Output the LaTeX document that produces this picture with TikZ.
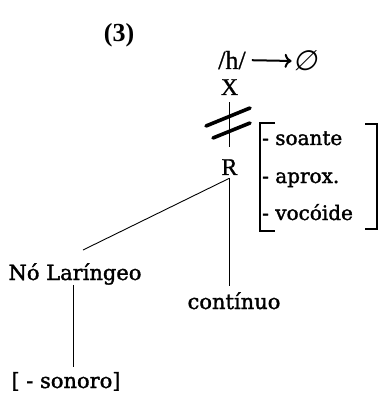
\documentclass[tikz,border=0pt]{standalone}
\usepackage{fontspec}
\setmainfont{DejaVu Serif}
\newfontfamily\heavy{DejaVu Serif}[BoldFont={DejaVu Serif},BoldFeatures={FakeBold=1.6}]
\newfontfamily\tms{Liberation Serif}[BoldFont={Liberation Serif},BoldFeatures={FakeBold=1.0}]
\newfontfamily\tmsb{Liberation Serif Bold}
\newfontfamily\dvs{DejaVu Sans}[FakeSlant=0.2]
\usetikzlibrary{arrows.meta}
\begin{document}
\begin{tikzpicture}[x=1pt,y=-1pt,
  lbl/.style={inner sep=0pt,anchor=base,font=\heavy\bfseries\fontsize{21}{25}\selectfont},
  feat/.style={inner sep=0pt,anchor=base west,font=\heavy\bfseries\fontsize{20}{24}\selectfont},
  tm/.style={inner sep=0pt,anchor=base,font=\tms\bfseries\fontsize{24}{28}\selectfont},
  ln/.style={line width=0.9pt},
  cut/.style={line width=3.6pt,line cap=round},
  brk/.style={line width=1.4pt}]
\useasboundingbox (0,0) rectangle (378,395);
% title
\node[inner sep=0pt,anchor=base,font=\tmsb\fontsize{26}{30}\selectfont] (three) at (119,42) {(3)};
% rule
\node[inner sep=0pt,anchor=base west,font=\tms\bfseries\fontsize{26}{30}\selectfont] (h) at (218,69) {/h/};
\node[inner sep=0pt,font=\dvs\fontsize{28}{32}\selectfont] (null) at (305,61) {∅};
\draw[line width=2pt,-{Computer Modern Rightarrow[length=7pt,width=14pt]},shorten <=6pt,shorten >=1pt] (h.east) -- (null.west);
% tiers
\node[tm] (X) at (229.5,95) {X};
\node[tm] (R) at (229.5,175) {R};
\draw[ln,shorten <=7pt,shorten >=12pt] (X.south) -- (R.north);
\draw[cut] (206,126) -- (250,108);
\draw[cut] (213,138) -- (250,123);
% feature bracket
\draw[brk] (275,123) -| (260,231) -- (275,231);
\draw[brk] (365,124) -| (377,229) -- (365,229);
\node[feat] (f1) at (262,145) {- soante};
\node[feat] (f2) at (262,183) {- aprox.};
\node[feat] (f3) at (262,220) {- vocóide};
% lower nodes
\node[lbl] (NL) at (75,280) {Nó Laríngeo};
\node[lbl] (cont) at (234,309) {contínuo};
\node[lbl] (son) at (66,388) {[ - sonoro]};
\draw[ln] ([yshift=-3pt]R.south) -- ([xshift=8pt,yshift=13pt]NL.north);
\draw[ln,shorten <=3pt,shorten >=6pt] (R.south) -- (R.south |- cont.north);
\draw[ln,shorten >=5pt] ([xshift=-2pt]NL.south) -- ([xshift=-2pt]NL.south |- son.north);
\end{tikzpicture}
\end{document}
